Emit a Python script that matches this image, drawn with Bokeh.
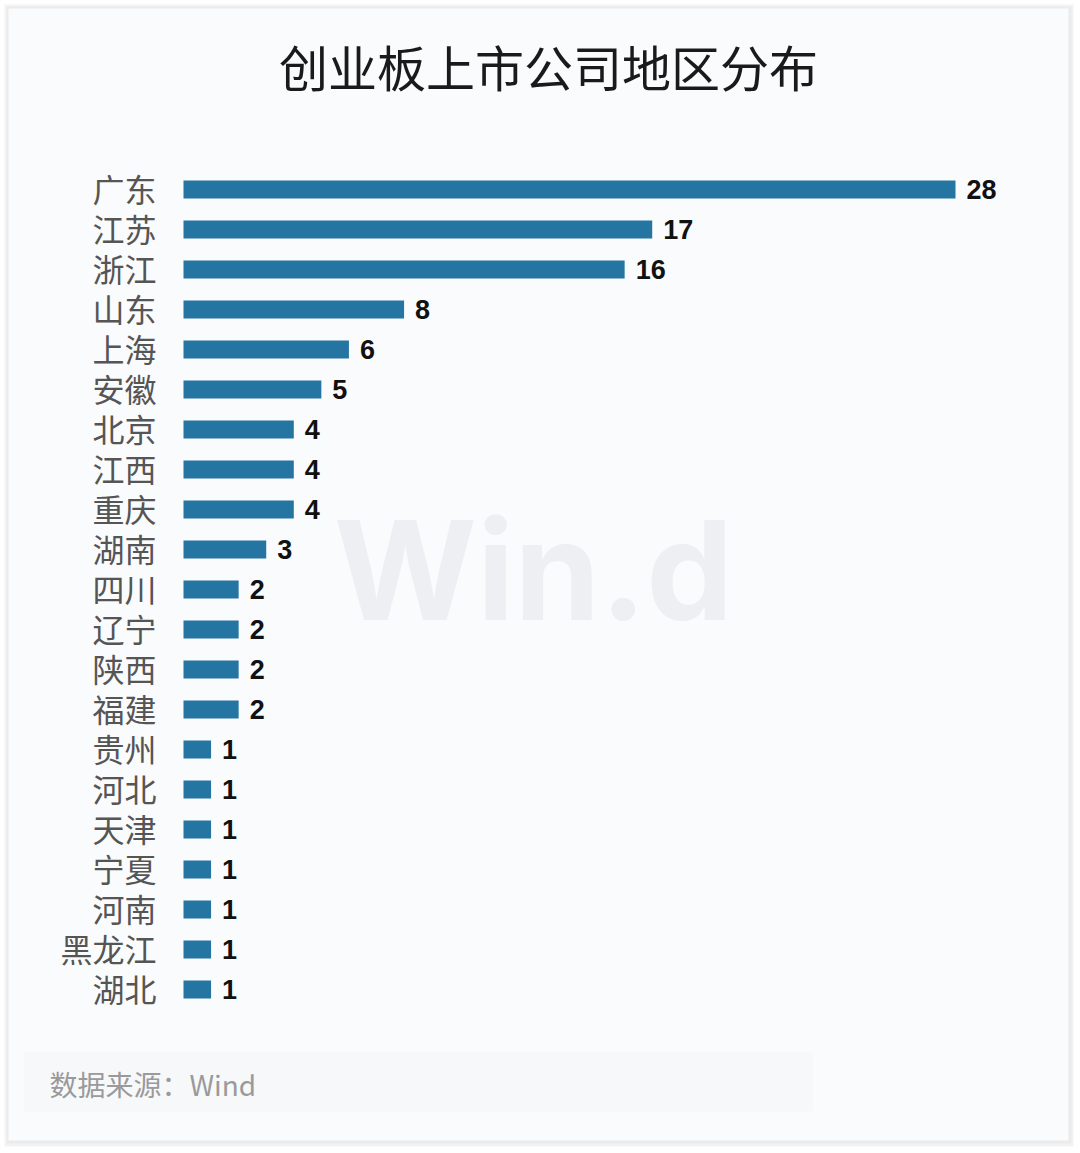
from bokeh.plotting import figure
from bokeh.models import Range1d, ColumnDataSource
from bokeh.core.properties import value
from bokeh.embed import file_html
from bokeh.resources import INLINE

# ---- data ----
regions = ["广东", "江苏", "浙江", "山东", "上海", "安徽", "北京", "江西", "重庆", "湖南",
           "四川", "辽宁", "陕西", "福建", "贵州", "河北", "天津", "宁夏", "河南", "黑龙江", "湖北"]
counts = [28, 17, 16, 8, 6, 5, 4, 4, 4, 3, 2, 2, 2, 2, 1, 1, 1, 1, 1, 1, 1]
title_text = "创业板上市公司地区分布"
source_text = "数据来源：Wind"
watermark = "Win.d"

W, H = 1080, 1153
X0, UNIT = 183.0, 772.0 / 28.0   # pixel of value 0, pixels per unit
Y0, ROWH = 189.0, 40.0            # pixel of first row centre, row spacing


def xd(px):
    return (px - X0) / UNIT


def yd(py):
    return (py - Y0) / ROWH


p = figure(width=W, height=H, output_backend="svg", toolbar_location=None,
           x_range=Range1d(xd(0), xd(W)), y_range=Range1d(yd(H), yd(0)),
           x_axis_type=None, y_axis_type=None, min_border=0,
           min_border_left=0, min_border_right=0, min_border_top=0, min_border_bottom=0)
p.outline_line_color = None
p.background_fill_color = "#ffffff"
p.border_fill_color = "#ffffff"
p.xgrid.visible = False
p.ygrid.visible = False

# card shadow and card
p.quad(left=[xd(4)], right=[xd(1073)], top=[yd(4)], bottom=[yd(1146)],
       fill_color="#f3f3f3", line_color=None)
p.quad(left=[xd(6)], right=[xd(1071)], top=[yd(6)], bottom=[yd(1143)],
       fill_color="#ebebeb", line_color=None)
p.quad(left=[xd(8)], right=[xd(1068)], top=[yd(8)], bottom=[yd(1140)],
       fill_color="#fafbfd", line_color=None)

# watermark
p.text(x=[xd(533)], y=[yd(569)], text=[watermark], text_align="center",
       text_baseline="middle", text_font=value("Inter"), text_font_style="bold",
       text_font_size="138px", text_color="#eeeff2")

idx = list(range(len(regions)))
src = ColumnDataSource(dict(y=idx, v=counts, cat=regions, lab=[str(c) for c in counts]))

p.hbar(y="y", left=0, right="v", height=0.45, source=src,
       fill_color="#2475a2", line_color=None)

p.text(x="v", y="y", text="lab", source=src, x_offset=11, y_offset=0,
       text_align="left", text_baseline="middle",
       text_font=value("Liberation Sans"), text_font_style="bold",
       text_font_size="27px", text_color="#111111")

p.text(x=xd(156), y="y", text="cat", source=src, y_offset=-2,
       text_align="right", text_baseline="middle",
       text_font=value("Noto Sans CJK SC"), text_font_size="32px",
       text_color="#555555")

# title
p.text(x=[xd(548)], y=[yd(65)], text=[title_text], text_align="center",
       text_baseline="middle", text_font=value("Noto Sans CJK SC"),
       text_font_size="49px", text_color="#1a1a1a")

# source box
p.quad(left=[xd(24)], right=[xd(812)], top=[yd(1052)], bottom=[yd(1111)],
       fill_color="#f7f8fa", line_color=None)
p.text(x=[xd(49)], y=[yd(1083)], text=[source_text], text_align="left",
       text_baseline="middle", text_font=value("Noto Sans CJK SC"),
       text_font_size="28px", text_color="#9a9a9a")

open("out.html", "w").write(file_html(p, INLINE))
